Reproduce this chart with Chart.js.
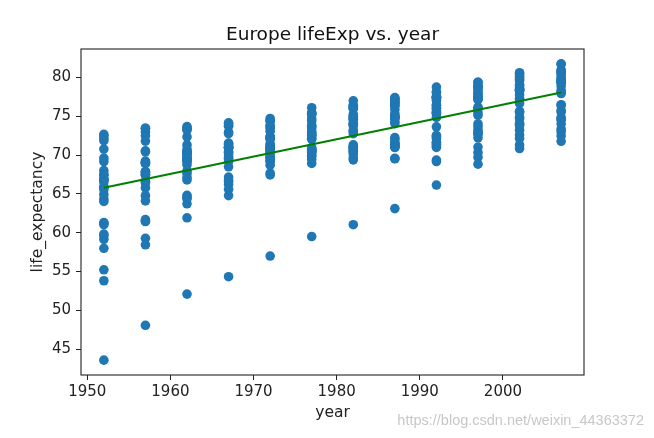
<!DOCTYPE html>
<html lang="en">
<head>
<meta charset="UTF-8">
<title>Europe lifeExp vs. year</title>
<script src="https://cdn.jsdelivr.net/npm/chart.js"></script>
<style>
  body { margin: 0; background: #fff; }
  #wrap { width: 654px; height: 438px; }
</style>
</head>
<body>
<div id="wrap"><canvas id="chart" width="654" height="438"></canvas></div>
<script>
// gapminder, Europe - one list per year (30 countries, same order each year)
const years = [1952, 1957, 1962, 1967, 1972, 1977, 1982, 1987, 1992, 1997, 2002, 2007];

const le1952 = [55.23, 66.8, 68.0, 53.82, 59.6, 61.21, 66.87, 70.78, 66.55, 67.41, 67.5, 65.86, 64.03, 72.49, 66.91, 65.94, 59.16, 72.13, 72.67, 61.31, 59.82, 61.05, 58.0, 64.36, 65.57, 64.94, 71.86, 69.62, 43.59, 69.18];
const le1957 = [59.28, 67.48, 69.24, 58.45, 66.61, 64.77, 69.03, 71.81, 67.49, 68.93, 69.1, 67.86, 66.41, 73.47, 68.9, 67.81, 61.45, 72.99, 73.44, 65.77, 61.51, 64.1, 61.69, 67.45, 67.85, 66.66, 72.49, 70.56, 48.08, 70.42];
const le1962 = [64.82, 69.54, 70.25, 61.93, 69.51, 67.13, 69.9, 72.35, 68.75, 70.51, 70.3, 69.51, 67.96, 73.68, 70.29, 69.24, 63.73, 73.23, 73.47, 67.64, 64.39, 66.8, 64.53, 70.33, 69.15, 69.69, 73.37, 71.32, 52.1, 70.76];
const le1967 = [66.22, 70.14, 70.94, 64.79, 70.42, 68.5, 70.38, 72.96, 69.83, 71.55, 70.8, 71.0, 69.5, 73.73, 71.08, 71.06, 67.18, 73.82, 74.08, 69.61, 66.6, 66.8, 65.6, 70.98, 69.18, 71.44, 74.16, 72.77, 54.34, 71.36];
const le1972 = [67.69, 70.63, 71.44, 67.45, 70.9, 69.61, 70.29, 73.47, 70.87, 72.38, 71.0, 72.34, 69.76, 74.46, 71.28, 72.19, 70.64, 73.75, 74.34, 70.85, 69.26, 69.21, 68.7, 70.35, 69.82, 73.06, 74.72, 73.78, 57.0, 72.01];
const le1977 = [68.93, 72.17, 72.8, 69.86, 70.81, 70.64, 70.71, 74.69, 72.52, 73.83, 72.5, 73.68, 69.95, 76.11, 72.03, 73.48, 73.07, 75.24, 75.37, 70.67, 70.41, 69.46, 70.3, 70.45, 70.97, 74.39, 75.44, 75.39, 59.51, 72.76];
const le1982 = [70.42, 73.18, 73.93, 70.69, 71.08, 70.46, 70.96, 74.63, 74.55, 74.89, 73.8, 75.24, 69.39, 76.99, 73.1, 74.98, 74.1, 76.05, 75.97, 71.32, 72.77, 69.66, 70.16, 70.8, 71.06, 76.3, 76.42, 76.21, 61.04, 74.04];
const le1987 = [72.0, 74.94, 75.35, 71.14, 71.34, 71.52, 71.58, 74.8, 74.83, 76.34, 74.85, 76.67, 69.58, 77.23, 74.36, 76.42, 74.87, 76.83, 75.89, 70.98, 74.06, 69.53, 71.22, 71.08, 72.25, 76.9, 77.19, 77.41, 63.11, 75.01];
const le1992 = [71.58, 76.04, 76.46, 72.18, 71.19, 72.53, 72.4, 75.33, 75.7, 77.46, 76.07, 77.03, 69.17, 78.77, 75.47, 77.44, 75.44, 77.42, 77.32, 70.99, 74.86, 69.36, 71.66, 71.38, 73.64, 77.57, 78.16, 78.03, 66.15, 76.42];
const le1997 = [72.95, 77.51, 77.53, 73.24, 70.32, 73.68, 74.01, 76.11, 77.13, 78.64, 77.34, 77.87, 71.04, 78.95, 76.12, 78.82, 75.45, 78.03, 78.32, 72.75, 75.97, 69.72, 72.23, 72.71, 75.13, 78.77, 79.39, 79.37, 68.84, 77.22];
const le2002 = [75.65, 78.98, 78.32, 74.09, 72.14, 74.88, 75.51, 77.18, 78.37, 79.59, 78.67, 78.26, 72.59, 80.5, 77.78, 80.24, 73.98, 78.53, 79.05, 74.67, 77.29, 71.32, 73.21, 73.8, 76.66, 79.78, 80.04, 80.62, 70.85, 78.47];
const le2007 = [76.42, 79.83, 79.44, 74.85, 73.01, 75.75, 76.49, 78.33, 79.31, 80.66, 79.41, 79.48, 73.34, 81.76, 78.89, 80.55, 74.54, 79.76, 80.2, 75.56, 78.1, 72.48, 74.0, 74.66, 77.93, 80.94, 80.88, 81.7, 71.78, 79.43];

const lifeExpByYear = [le1952, le1957, le1962, le1967, le1972, le1977, le1982, le1987, le1992, le1997, le2002, le2007];

// fitted line, end points
const fitYears = [1952, 2007];
const fitValues = [65.8, 78.07];

const yTicks = [45, 50, 55, 60, 65, 70, 75, 80];
const xTicks = [1950, 1960, 1970, 1980, 1990, 2000];

const points = [];
years.forEach((yr, i) => {
    lifeExpByYear[i].forEach(v => points.push({ x: yr, y: v }));
});
const fitPoints = fitYears.map((yr, i) => ({ x: yr, y: fitValues[i] }));

const FONT = 'DejaVu Sans';

const extras = {
    id: 'extras',
    afterDraw(chart) {
        const { ctx, chartArea: a } = chart;
        ctx.save();
        // box round the plot
        ctx.strokeStyle = '#222';
        ctx.lineWidth = 1.1;
        ctx.strokeRect(a.left, a.top, a.right - a.left, a.bottom - a.top);
        // title
        ctx.fillStyle = '#111';
        ctx.font = '18.5px "' + FONT + '"';
        ctx.textAlign = 'center';
        ctx.textBaseline = 'middle';
        ctx.fillText('Europe lifeExp vs. year', (a.left + a.right) / 2, 35);
        // watermark
        ctx.font = '14.5px "Liberation Sans"';
        ctx.textAlign = 'right';
        ctx.fillStyle = 'rgba(185,185,185,0.8)';
        ctx.fillText('https://blog.csdn.net/weixin_44363372', 644, 421);
        ctx.restore();
    }
};

new Chart(document.getElementById('chart'), {
    type: 'scatter',
    data: {
        datasets: [
            {
                type: 'line',
                label: 'fit',
                data: fitPoints,
                borderColor: '#008000',
                borderWidth: 2,
                pointRadius: 0,
                fill: false,
                order: 0
            },
            {
                label: 'lifeExp',
                data: points,
                backgroundColor: '#1f77b4',
                borderWidth: 0,
                pointRadius: 4.8,
                order: 1
            }
        ]
    },
    plugins: [extras],
    options: {
        responsive: false,
        animation: false,
        layout: { padding: { top: 49, right: 70, bottom: 0, left: 0 } },
        plugins: { legend: { display: false }, tooltip: { enabled: false } },
        scales: {
            x: {
                type: 'linear',
                min: 1949.25,
                max: 2009.75,
                afterFit(s) { s.height = 63; },
                afterBuildTicks(s) { s.ticks = xTicks.map(v => ({ value: v })); },
                ticks: {
                    color: '#222',
                    font: { family: FONT, size: 15 },
                    padding: 3,
                    maxRotation: 0,
                    callback: v => String(v)
                },
                grid: { drawOnChartArea: false, drawTicks: true, tickLength: 5, color: '#222' },
                border: { display: false },
                title: {
                    display: true,
                    text: 'year',
                    color: '#222',
                    font: { family: FONT, size: 15.5 },
                    padding: { top: 0, bottom: 16 }
                }
            },
            y: {
                min: 41.68,
                max: 83.67,
                afterFit(s) { s.width = 81; },
                afterBuildTicks(s) { s.ticks = yTicks.map(v => ({ value: v })); },
                ticks: {
                    color: '#222',
                    font: { family: FONT, size: 15 },
                    padding: 5,
                    callback: v => String(v)
                },
                grid: { drawOnChartArea: false, drawTicks: true, tickLength: 5, color: '#222' },
                border: { display: false },
                title: {
                    display: true,
                    text: 'life_expectancy',
                    color: '#222',
                    font: { family: FONT, size: 15.5 },
                    padding: { top: 29, bottom: 0 }
                }
            }
        }
    }
});
</script>
</body>
</html>
